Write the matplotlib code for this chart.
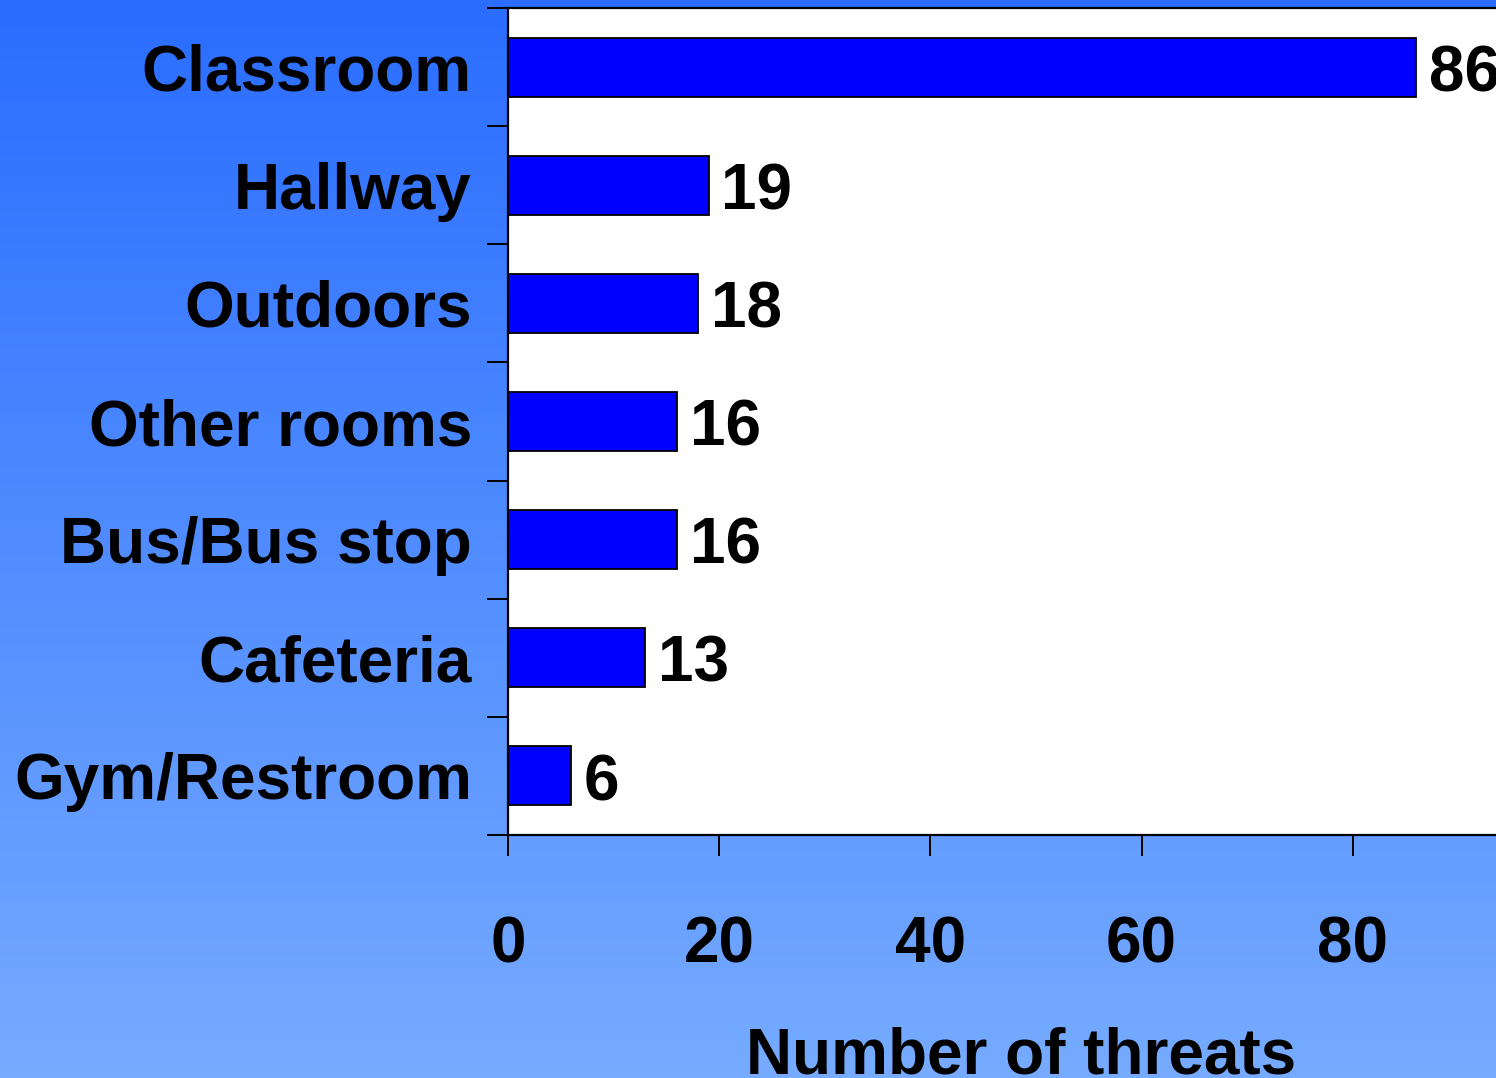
import numpy as np
import matplotlib
matplotlib.use("Agg")
import matplotlib.pyplot as plt
from matplotlib.transforms import ScaledTranslation

categories = ["Classroom", "Hallway", "Outdoors", "Other rooms", "Bus/Bus stop", "Cafeteria", "Gym/Restroom"]
threats = [86, 19, 18, 16, 16, 13, 6]
xticks = [0, 20, 40, 60, 80]

plt.rcParams['font.family'] = ['Liberation Sans', 'DejaVu Sans']
plt.rcParams['font.weight'] = 'bold'

fig = plt.figure(figsize=(14.96, 10.78), dpi=100)

# gradient background
bg = fig.add_axes([0, 0, 1, 1], zorder=-1)
top = np.array([42, 109, 255]) / 255
bot = np.array([118, 171, 255]) / 255
t = np.linspace(0, 1, 256)[:, None]
grad = top[None, :] * (1 - t) + bot[None, :] * t
bg.imshow(grad[:, None, :], aspect='auto', extent=[0, 1, 0, 1])
bg.axis('off')

ax = fig.add_axes([508/1496, 243/1078, 1056/1496, 827/1078])
ax.set_facecolor('white')
y = np.arange(len(categories))
ax.barh(y, threats, height=0.5, color='#0000ff', edgecolor='black', linewidth=1.3)
for yi, v in zip(y, threats):
    ax.text(v + 1.2, yi + 0.06, str(v), va='center', ha='left', fontsize=46, fontweight='bold', clip_on=False)

ax.set_ylim(len(categories) - 0.5, -0.5)
ax.set_xlim(0, 100)
ax.set_yticks(y)
ax.set_yticklabels(categories, fontsize=46, fontweight='bold')
shift = ScaledTranslation(0, -3/100, fig.dpi_scale_trans)
for lab in ax.get_yticklabels():
    lab.set_transform(lab.get_transform() + shift)
ax.set_yticks(np.arange(-0.5, len(categories)), minor=True)
ax.tick_params(axis='y', which='major', length=0, pad=26)
ax.tick_params(axis='y', which='minor', length=15, width=1.4, direction='out')
ax.set_xticks(xticks)
ax.set_xticklabels([str(v) for v in xticks], fontsize=46, fontweight='bold')
ax.tick_params(axis='x', length=15, width=1.4, direction='out', pad=43)
for s in ax.spines.values():
    s.set_linewidth(1.6)

fig.text(1021/1496, 1 - 1073/1078, "Number of threats", ha='center', va='baseline',
         fontsize=46, fontweight='bold')

fig.savefig("out.png", dpi=100)
